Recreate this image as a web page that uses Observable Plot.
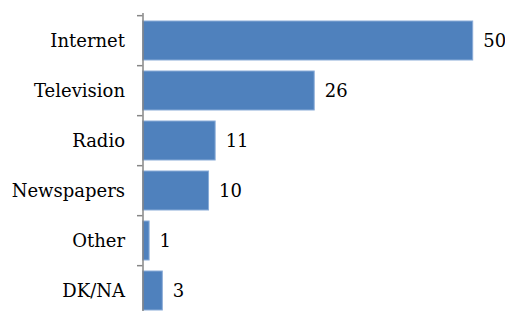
<!DOCTYPE html>
<html>
<head>
<meta charset="utf-8">
<script src="https://cdn.jsdelivr.net/npm/d3@7"></script>
<script src="https://cdn.jsdelivr.net/npm/@observablehq/plot@0.6"></script>
<style>
  html, body { margin: 0; padding: 0; background: #fff; overflow: hidden; }
</style>
</head>
<body>
<div id="chart"></div>
<script>
const categories = ["Internet", "Television", "Radio", "Newspapers", "Other", "DK/NA"];
const values = [50, 26, 11, 10, 1, 3];

const data = categories.map((c, i) => ({category: c, value: values[i]}));

const step = (317 - 13) / categories.length;

const chart = Plot.plot({
  width: 505,
  height: 317,
  marginTop: 13,
  marginBottom: 0,
  marginLeft: 142.5,
  marginRight: 32.3,
  style: {fontFamily: "'DejaVu Serif', serif", fontSize: "18px", color: "#000", background: "#fff"},
  x: {domain: [0, 50], axis: null},
  y: {domain: categories, padding: 0.23, paddingOuter: 0.115, label: null},
  marks: [
    Plot.barX(data, {y: "category", x: "value", fill: "#4F81BD", stroke: "#8aacd8", strokeWidth: 1}),
    Plot.ruleX([0], {stroke: "#868686", strokeWidth: 1.5}),
    Plot.axisY({tickSize: 5.5, text: null, dy: -step / 2, stroke: "#868686", strokeWidth: 1.5, label: null}),
    Plot.axisY({tickSize: 0, tickPadding: 18, label: null, fontSize: 18, fill: "#000"}),
    Plot.text(data, {y: "category", x: "value", text: d => String(d.value), dx: 10, textAnchor: "start", fontSize: 18, fill: "#000"})
  ]
});
document.getElementById("chart").append(chart);
</script>
</body>
</html>
